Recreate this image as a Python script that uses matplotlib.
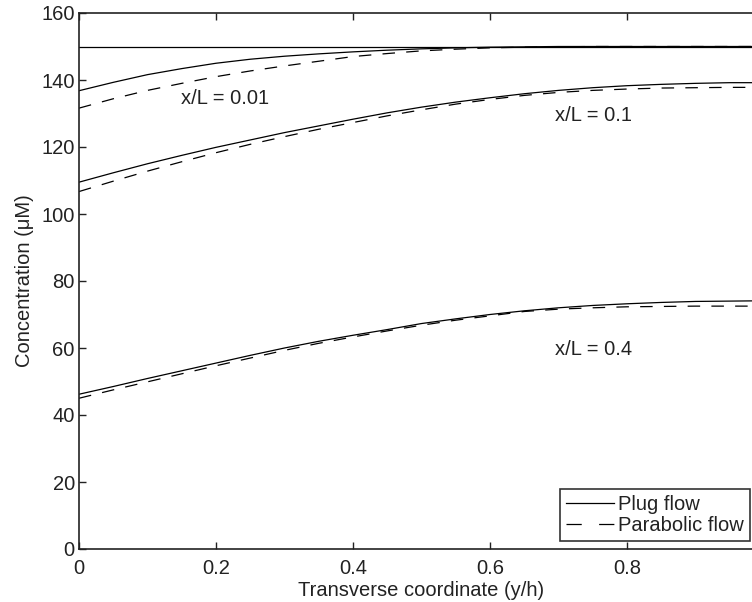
import matplotlib
matplotlib.use("Agg")
import matplotlib.pyplot as plt
import numpy as np

# transverse coordinate y/h
y_h = [0.0, 0.05, 0.1, 0.15, 0.2, 0.25, 0.3, 0.35, 0.4, 0.45, 0.5,
       0.55, 0.6, 0.65, 0.7, 0.75, 0.8, 0.85, 0.9, 0.95, 1.0]

# inlet concentration (uM)
c_inlet = [150.0] * len(y_h)

# x/L = 0.01
plug_001 = [136.8, 139.3, 141.6, 143.4, 145.0, 146.2, 147.1, 147.8, 148.4, 148.9, 149.3,
            149.6, 149.8, 149.9, 150.0, 150.0, 150.0, 150.0, 150.0, 150.0, 150.0]
para_001 = [131.6, 134.4, 136.9, 139.0, 141.0, 142.7, 144.2, 145.6, 147.0, 147.9, 148.7,
            149.2, 149.6, 149.8, 149.9, 150.0, 150.0, 150.0, 150.0, 150.0, 150.0]

# x/L = 0.1
plug_01 = [109.5, 112.3, 115.0, 117.5, 119.9, 122.1, 124.3, 126.3, 128.3, 130.2, 131.9,
           133.4, 134.7, 135.9, 136.9, 137.7, 138.3, 138.7, 139.0, 139.2, 139.2]
para_01 = [106.7, 109.8, 112.8, 115.6, 118.3, 120.8, 123.1, 125.3, 127.3, 129.3, 131.1,
           132.8, 134.2, 135.4, 136.3, 136.9, 137.3, 137.6, 137.7, 137.8, 137.8]

# x/L = 0.4
plug_04 = [46.2, 48.5, 50.9, 53.2, 55.5, 57.8, 60.0, 62.0, 63.8, 65.5, 67.3,
           68.7, 70.0, 71.1, 72.0, 72.7, 73.2, 73.6, 73.9, 74.0, 74.1]
para_04 = [45.0, 47.5, 49.9, 52.3, 54.7, 57.0, 59.3, 61.4, 63.3, 65.1, 66.8,
           68.3, 69.6, 70.9, 71.6, 72.0, 72.3, 72.4, 72.5, 72.5, 72.5]

x_ticks = [0, 0.2, 0.4, 0.6, 0.8]
x_ticklabels = ['0', '0.2', '0.4', '0.6', '0.8']

plt.rcParams['font.family'] = ['Liberation Sans', 'DejaVu Sans']

fig = plt.figure(figsize=(7.52, 6.02), dpi=100)
# the right part of the axes falls outside the picture, as in the original
ax = fig.add_axes([79/752, 53/602, 685/752, 536/602])

dash = (0, (10, 9))
ax.plot(y_h, c_inlet, color='k', lw=0.9)
ax.plot(y_h, plug_001, color='k', lw=0.9, label='Plug flow')
ax.plot(y_h, para_001, color='k', lw=0.9, ls=dash, label='Parabolic flow')
ax.plot(y_h, plug_01, color='k', lw=0.9)
ax.plot(y_h, para_01, color='k', lw=0.9, ls=dash)
ax.plot(y_h, plug_04, color='k', lw=0.9)
ax.plot(y_h, para_04, color='k', lw=0.9, ls=dash)

ax.text(0.149, 134.5, 'x/L = 0.01', fontsize=14.5, va='center', color='#222222')
ax.text(0.695, 129.3, 'x/L = 0.1', fontsize=14.5, va='center', color='#222222')
ax.text(0.695, 59.5, 'x/L = 0.4', fontsize=14.5, va='center', color='#222222')

ax.set_xlim(0, 1)
ax.set_ylim(0, 160)
ax.set_xticks(x_ticks)
ax.set_xticklabels(x_ticklabels)
ax.set_yticks(range(0, 161, 20))
ax.tick_params(direction='in', length=5, width=1, labelsize=14.5,
               top=True, right=True, colors='#222222')
ax.tick_params(axis='x', pad=7)
ax.tick_params(axis='y', pad=3)
for s in ax.spines.values():
    s.set_linewidth(1.2)
    s.set_color('#222222')

ax.set_xlabel('Transverse coordinate (y/h)', fontsize=14.5, labelpad=2, color='#222222')
ax.set_ylabel('Concentration (\u03bcM)', fontsize=14.5, labelpad=5, color='#222222')

leg = ax.legend(loc='lower right', bbox_to_anchor=(750/752, 61/602),
                bbox_transform=fig.transFigure, fontsize=14.5, frameon=True,
                fancybox=False, borderpad=0.3, labelspacing=0.1,
                handlelength=2.4, handletextpad=0.2, borderaxespad=0)
leg.get_frame().set_edgecolor('k')
leg.get_frame().set_linewidth(1.2)
leg.get_lines()[1].set_linestyle((0, (12.2, 13.9)))
for t in leg.get_texts():
    t.set_color('#222222')

fig.savefig('out.png', dpi=100)
